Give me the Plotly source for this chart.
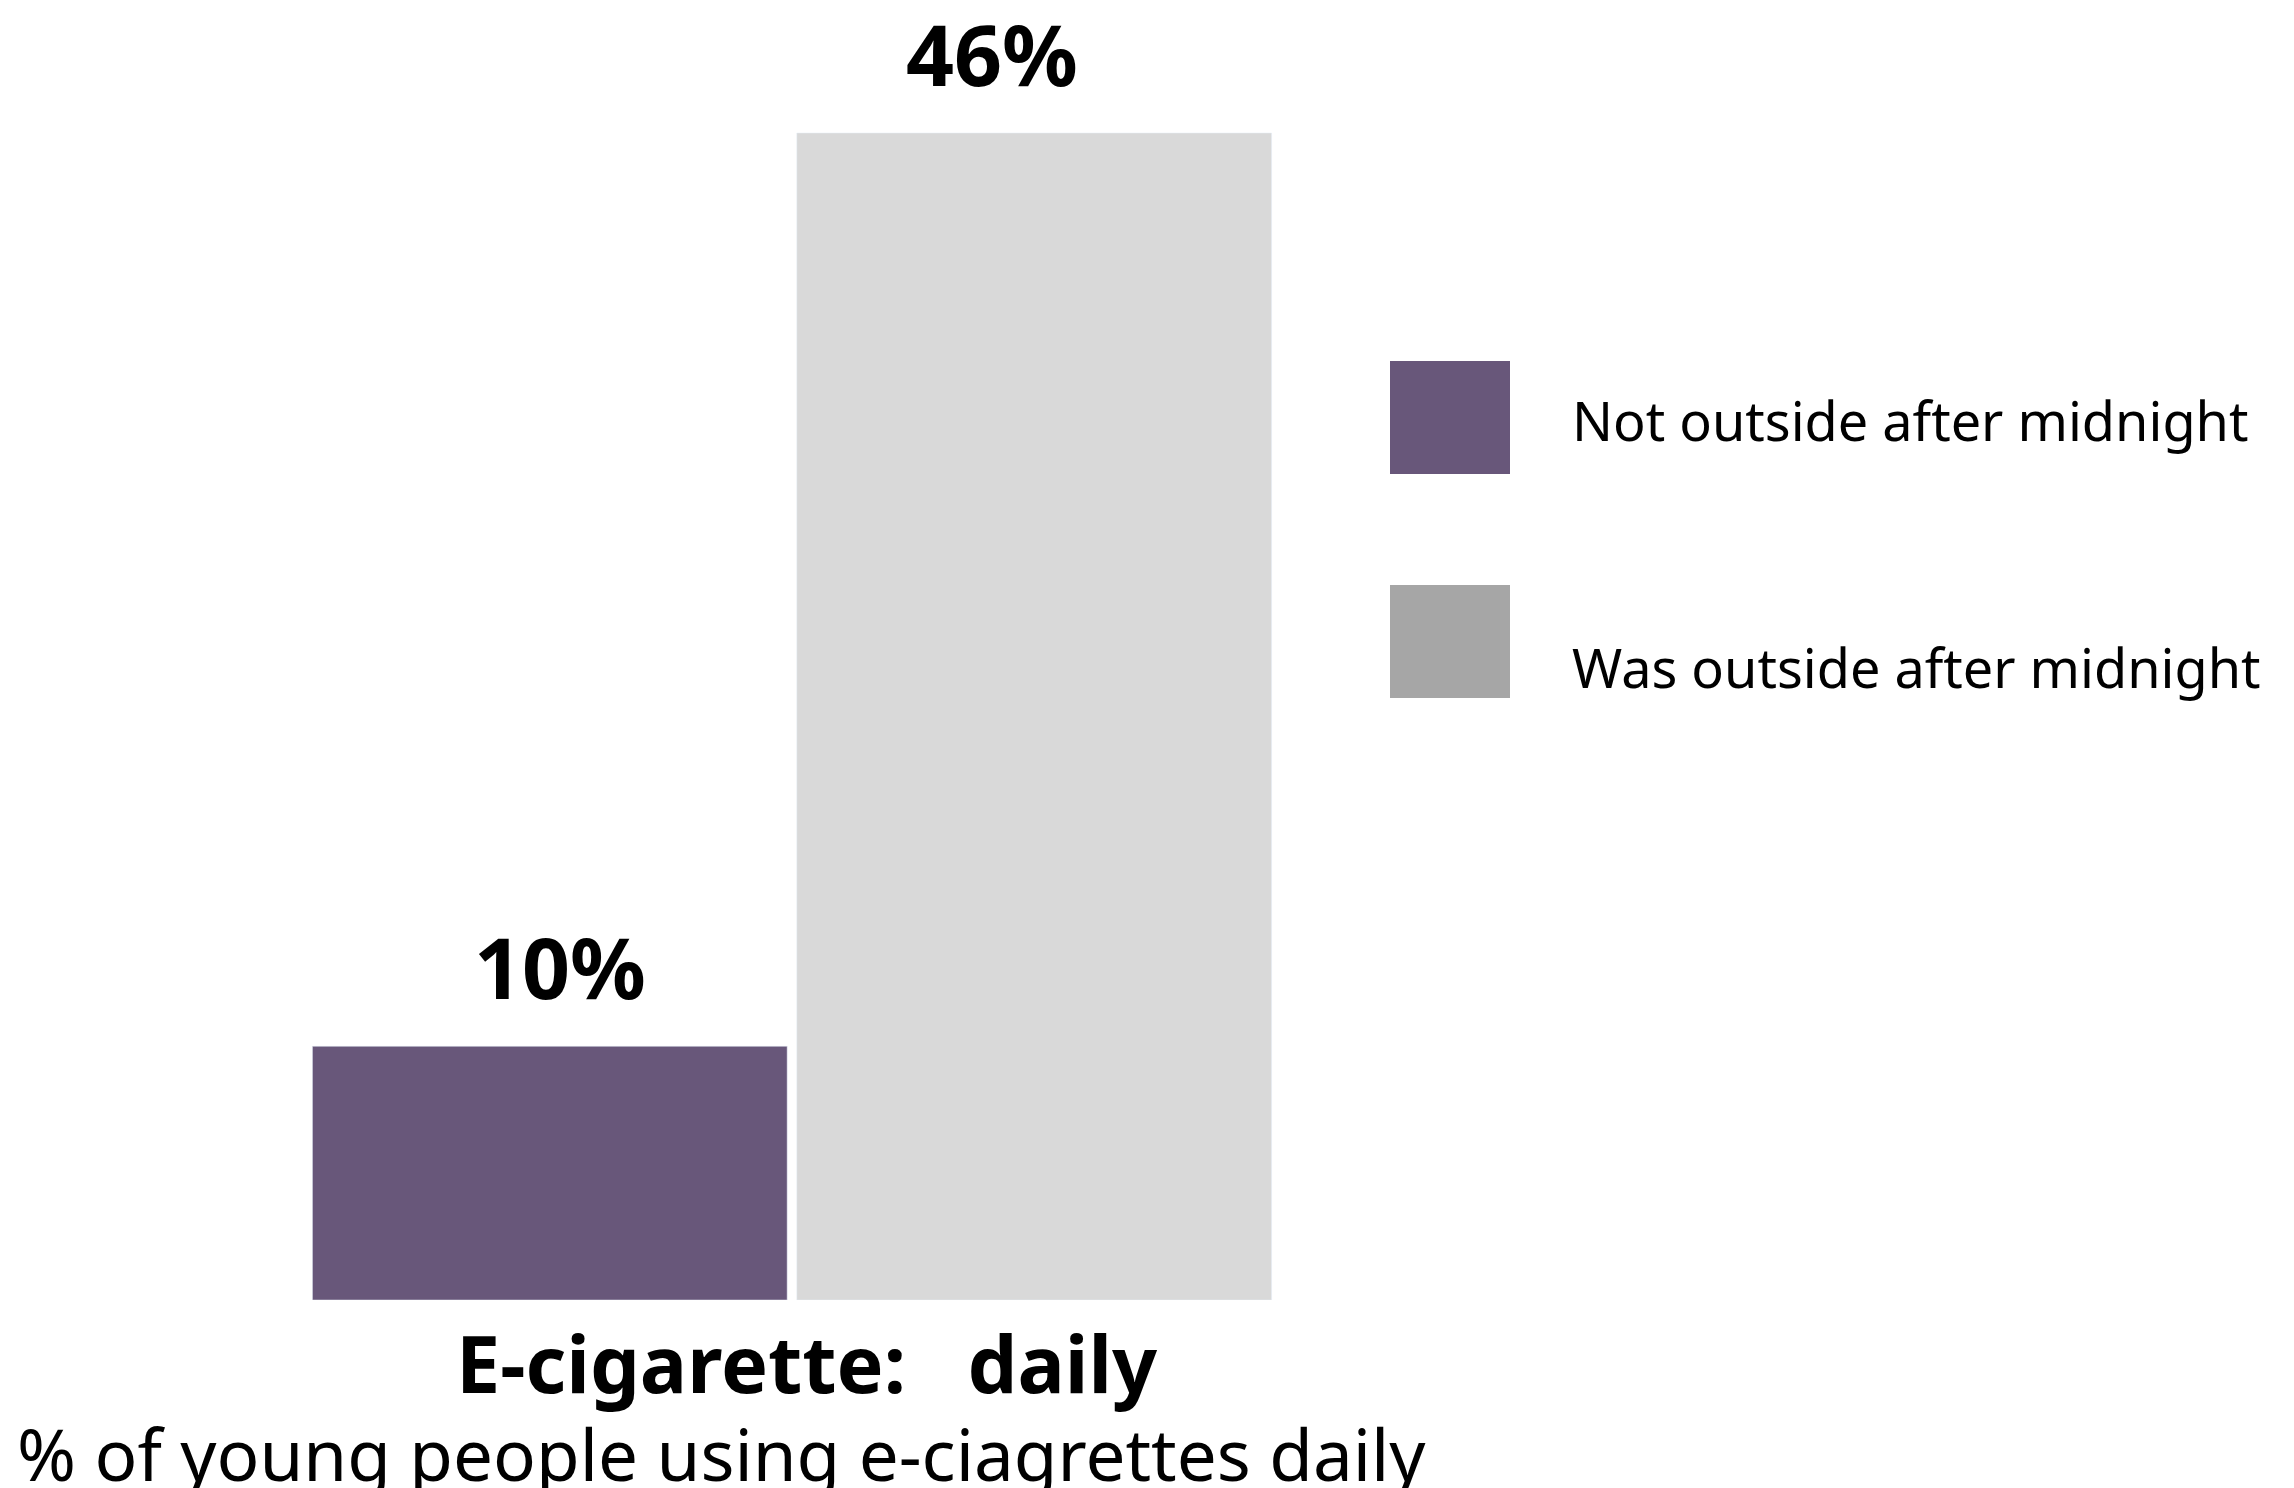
import plotly.graph_objects as go

categories = ["E-cigarette:\u00a0\u00a0\u00a0daily"]
series_names = ["Not outside after midnight", "Was outside after midnight"]
not_outside = [10]
was_outside = [46]
bar_colors = ["#68577a", "#d9d9d9"]
legend_colors = ["#68577a", "#a6a6a6"]
subtitle = "% of young people using e-ciagrettes daily"

W, H = 2294, 1488
L, R, T, B = 232, 942, 100, 188
PW, PH = W - L - R, H - T - B

def px(x):
    return (x - L) / PW

def py(y):
    return (H - B - y) / PH

fig = go.Figure()
label_shift = {series_names[0]: -232, series_names[1]: 200}
annotations = []
for name, vals, col in [(series_names[0], not_outside, bar_colors[0]),
                        (series_names[1], was_outside, bar_colors[1])]:
    fig.add_trace(go.Bar(
        x=categories, y=vals, name=name, marker_color=col,
        showlegend=False,
    ))
    for c, v in zip(categories, vals):
        annotations.append(dict(
            x=c, y=v, xref="x", yref="y", text=f"<b>{v}%</b>",
            showarrow=False, xanchor="center", yanchor="middle",
            xshift=label_shift[name], yshift=80,
            font=dict(family="Noto Sans", size=84, color="#000000")))

# category label under the bars
for c in categories:
    annotations.append(dict(
        x=c, y=0, xref="x", yref="y", text=f"<b>{c}</b>",
        showarrow=False, xanchor="center", yanchor="top",
        xshift=15, yshift=-7,
        font=dict(family="Noto Sans", size=79, color="#000000")))

shapes = []
legend_boxes = [(361, 474, 420), (585, 698, 667)]
for (y0, y1, yt), name, col in zip(legend_boxes, series_names, legend_colors):
    shapes.append(dict(type="rect", xref="paper", yref="paper",
                       x0=px(1390), x1=px(1510), y0=py(y1), y1=py(y0),
                       fillcolor=col, line=dict(width=0)))
    annotations.append(dict(text=name, xref="paper", yref="paper",
                            x=px(1570), y=py(yt), xanchor="left", yanchor="middle",
                            showarrow=False,
                            font=dict(family="Noto Sans", size=54, color="#000000")))

annotations.append(dict(text=subtitle, xref="paper", yref="paper",
                        x=px(721), y=py(1453), xanchor="center", yanchor="middle",
                        showarrow=False,
                        font=dict(family="Noto Sans", size=71, color="#000000")))

fig.update_layout(
    width=W, height=H,
    margin=dict(l=L, r=R, t=T, b=B, pad=0),
    paper_bgcolor="white", plot_bgcolor="white",
    barmode="group", bargap=0.135, bargroupgap=0.02,
    shapes=shapes, annotations=annotations,
    xaxis=dict(showgrid=False, showline=False, zeroline=False, ticks="",
               showticklabels=False),
    yaxis=dict(range=[0, 46 * PH / 1167], visible=False),
)

fig.write_html("out.html")
